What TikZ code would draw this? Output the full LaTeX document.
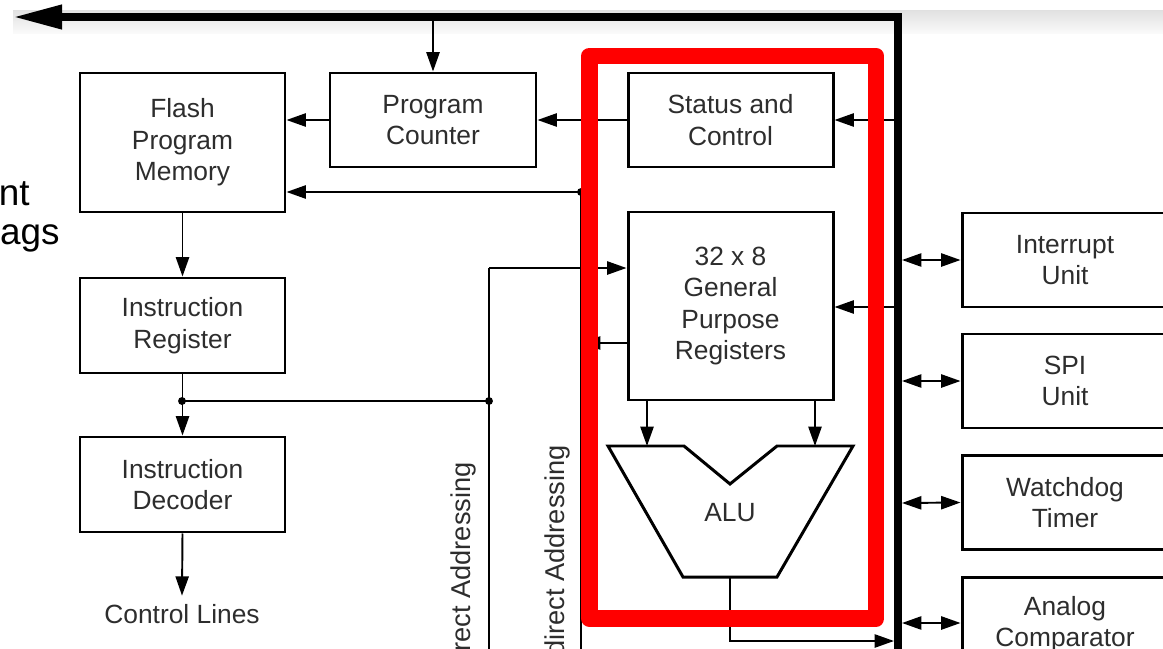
\documentclass[tikz,border=0pt]{standalone}
\usepackage{fontspec}
\setmainfont{Liberation Sans}
\usetikzlibrary{arrows.meta}
\definecolor{txt}{RGB}{45,45,45}
\begin{document}
\begin{tikzpicture}[x=0.02cm,y=-0.02cm,
  box/.style={draw=black, line width=1.7pt, fill=white, inner sep=0pt, align=center,
    font=\fontsize{15}{18}\selectfont, text=txt, minimum width=205*0.02cm, minimum height=94*0.02cm},
  conn/.style={line width=1.1pt, -{Triangle[length=11pt,width=7.5pt]}},
  wire/.style={line width=1.1pt},
  bidir/.style={line width=1.1pt, {Triangle[length=11pt,width=7.5pt]}-{Triangle[length=11pt,width=7.5pt]}},
  dot/.style={circle, fill=black, inner sep=0pt, minimum size=4.5pt},
  lbl/.style={font=\fontsize{15}{18}\selectfont, text=txt, inner sep=0pt},
  rlbl/.style={font=\fontsize{15.5}{18}\selectfont, text=txt, inner sep=0pt, rotate=90, anchor=east},
  cut/.style={font=\fontsize{21}{25}\selectfont, text=black, inner sep=0pt, anchor=base east}]
\useasboundingbox (0,0) rectangle (1163,649);
\clip (0,0) rectangle (1163,649);
\shade[top color=black!12, bottom color=black!2] (13,10) rectangle (1163,33);

% left cut-off text
\node[cut] (nt) at (30,205) {nt};
\node[cut] (ags) at (60,244) {ags};

% boxes
\node[box, minimum height=139*0.02cm] (flash) at (182.5,142.5) {Flash\\Program\\Memory};
\node[box, minimum width=206*0.02cm] (pc) at (433,120) {Program\\Counter};
\node[box] (sc) at (730.5,120) {Status and\\Control};
\node[box, minimum height=188*0.02cm] (reg) at (730.5,306) {32 x 8\\General\\Purpose\\Registers};
\node[box, minimum height=95*0.02cm] (ir) at (182.5,325.5) {Instruction\\Register};
\node[box, minimum height=95*0.02cm] (dec) at (182.5,484.5) {Instruction\\Decoder};
\node[lbl, anchor=base] (ctrl) at (182,623) {Control Lines};

\node[box, minimum width=206*0.02cm] (int) at (1065,260) {Interrupt\\Unit};
\node[box, minimum width=206*0.02cm] (spi) at (1065,381) {SPI\\Unit};
\node[box, minimum width=206*0.02cm] (wdt) at (1065,502.5) {Watchdog\\Timer};
\node[box, minimum width=206*0.02cm] (acmp) at (1065,624) {Analog\\Comparator};

% ALU
\coordinate (a1) at (608,446); \coordinate (a2) at (684,446); \coordinate (a3) at (730,484);
\coordinate (a4) at (777,446); \coordinate (a5) at (853,446); \coordinate (a6) at (777,577);
\coordinate (a7) at (683,577);
\draw[line width=1.7pt, line join=miter] (a1) -- (a2) -- (a3) -- (a4) -- (a5) -- (a6) -- (a7) -- cycle;
\node[lbl] (alu) at (730,513) {ALU};
\coordinate (alu1) at (647,446); \coordinate (alu2) at (815,446);
\draw[conn] (reg.south -| alu1) -- (alu1);
\draw[conn] (reg.south -| alu2) -- (alu2);

% rotated labels
\node[rlbl] (dA) at (463,462) {Direct Addressing};
\node[rlbl] (iA) at (557,445) {Indirect Addressing};

% bus
\coordinate (busTL) at (898,17); \coordinate (busend) at (13,17); \coordinate (busbot) at (898,680);
\draw[line width=4.5pt, line join=miter, -{Triangle[length=28pt,width=13pt]}] (busbot) -- (busTL) -- (busend);

% connectors
\coordinate (b1) at (433,21);
\draw[conn] (b1) -- (pc.north);
\draw[conn] (pc.west) -- (pc.west -| flash.east);
\draw[conn] (sc.west) -- (pc.east);
\coordinate (b2) at (895,120);
\draw[conn] (b2) -- (sc.east);
\coordinate (b3) at (895,307);
\draw[conn] (b3) -- (b3 -| reg.east);

\coordinate (indtop) at (581,192); \coordinate (indbot) at (581,680);
\draw[wire] (indtop) -- (indbot);
\draw[conn] (indtop) -- (indtop -| flash.east);
\node[dot] (d0) at (indtop) {};
\coordinate (ri) at (581,343);
\draw[conn] (reg.west |- ri) -- (ri);

\coordinate (j1) at (182,401); \coordinate (j2) at (489,401);
\coordinate (dtop) at (489,268); \coordinate (dbot) at (489,680);
\draw[wire] (j1) -- (j2);
\draw[wire] (dbot) -- (j2) -- (dtop);
\draw[conn] (dtop) -- (dtop -| reg.west);
\draw[conn] (flash.south) -- (ir.north);
\draw[conn] (ir.south) -- (dec.north);
\node[dot] (d1) at (j1) {};
\node[dot] (d2) at (j2) {};
\draw[conn] (dec.south) -- ([yshift=4.5pt]ctrl.north);

\coordinate (alubot) at (730,577); \coordinate (ao) at (730,641); \coordinate (busin) at (894,641);
\draw[conn] (alubot) -- (ao) -- (busin);

\coordinate (bi1) at (902,260); \coordinate (bi2) at (902,381);
\coordinate (bi3) at (902,503); \coordinate (bi4) at (902,623);
\draw[bidir] (bi1) -- (int.west);
\draw[bidir] (bi2) -- (spi.west);
\draw[bidir] (bi3) -- (wdt.west);
\draw[bidir] (bi4) -- (bi4 -| acmp.west);

% highlight
\draw[red, line width=9.6pt, line join=round] (589.5,56) rectangle (876,618.5);
\end{tikzpicture}
\end{document}
